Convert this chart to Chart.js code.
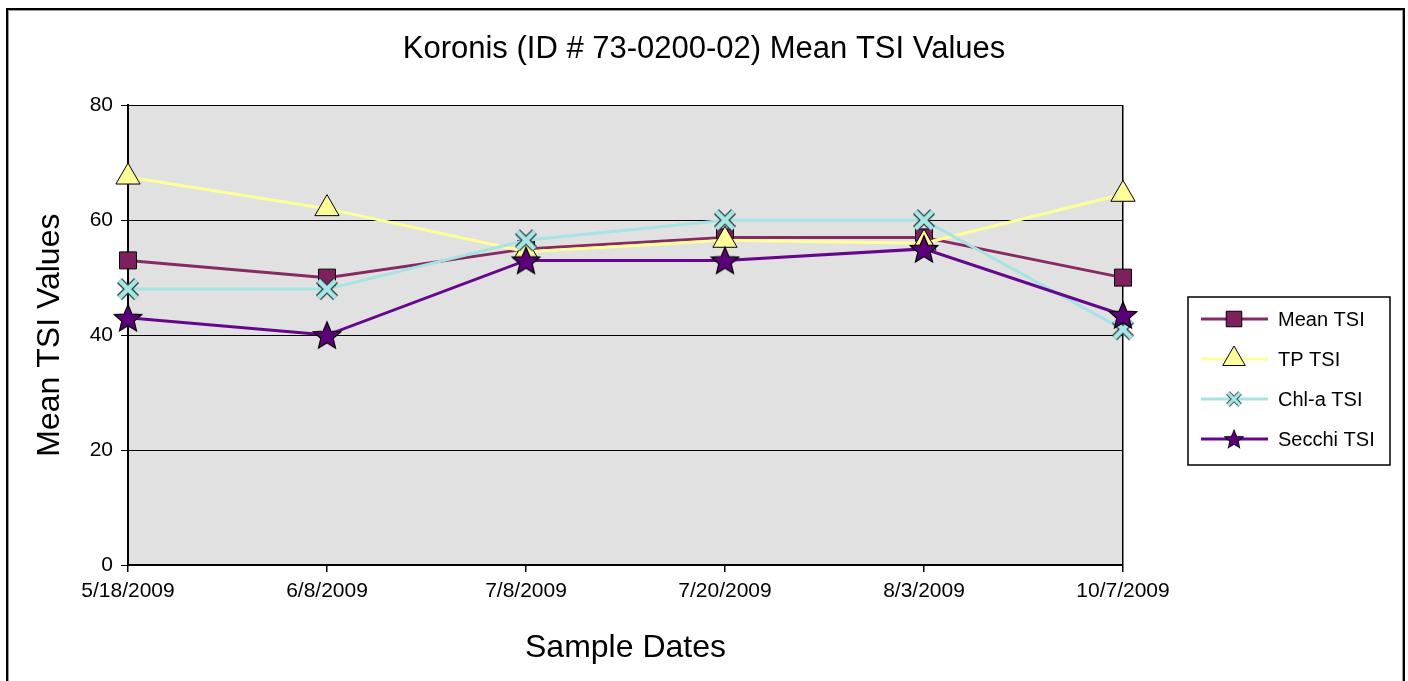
<!DOCTYPE html>
<html>
<head>
<meta charset="utf-8">
<script src="https://cdn.jsdelivr.net/npm/chart.js@4/dist/chart.umd.min.js"></script>
<style>
  html, body { margin: 0; padding: 0; background: #fff; }
  #wrap { width: 1408px; height: 681px; position: relative; }
</style>
</head>
<body>
<div id="wrap"><canvas id="grafico"></canvas></div>
<script>
// valores
const datasAmostra = ["5/18/2009", "6/8/2009", "7/8/2009", "7/20/2009", "8/3/2009", "10/7/2009"];
const meanTsi = [53, 50, 55, 57, 57, 50];
const tpTsi = [67.5, 62, 54.5, 56.5, 56, 64.5];
const chlaTsi = [48, 48, 56.5, 60, 60, 41];
const secchiTsi = [43, 40, 53, 53, 55, 43.5];
const ticksY = [0, 20, 40, 60, 80];

const FONTE = "'Liberation Sans', Arial, sans-serif";

// marcador "X" com contorno escuro
function criarMarcadorX(tam, cor) {
  const c = document.createElement("canvas");
  c.width = tam; c.height = tam;
  const ctx = c.getContext("2d");
  const m = tam * 0.17;
  ctx.lineCap = "butt";
  ctx.beginPath();
  ctx.moveTo(m, m); ctx.lineTo(tam - m, tam - m);
  ctx.moveTo(tam - m, m); ctx.lineTo(m, tam - m);
  ctx.strokeStyle = "#2f3f3f";
  ctx.lineWidth = tam * 0.27;
  ctx.stroke();
  ctx.strokeStyle = cor;
  ctx.lineWidth = tam * 0.17;
  ctx.stroke();
  return c;
}

// estrela de 5 pontas preenchida
function criarMarcadorEstrela(tam, cor) {
  const c = document.createElement("canvas");
  c.width = tam; c.height = tam;
  const ctx = c.getContext("2d");
  const cx = tam / 2, cy = tam / 2 + tam * 0.04;
  const rExt = tam / 2 - 1.5, rInt = rExt * 0.45;
  ctx.beginPath();
  for (let i = 0; i < 10; i++) {
    const r = i % 2 === 0 ? rExt : rInt;
    const a = -Math.PI / 2 + i * Math.PI / 5;
    const x = cx + r * Math.cos(a), y = cy + r * Math.sin(a);
    i === 0 ? ctx.moveTo(x, y) : ctx.lineTo(x, y);
  }
  ctx.closePath();
  ctx.fillStyle = cor;
  ctx.fill();
  ctx.strokeStyle = "#000";
  ctx.lineWidth = 1.2;
  ctx.stroke();
  return c;
}

const marcadorX = criarMarcadorX(26, "#a6e6e6");
const marcadorEstrela = criarMarcadorEstrela(32, "#5a0078");

// fundo branco, moldura externa e área cinza do gráfico
const pluginFundo = {
  id: "fundo",
  beforeDraw(chart) {
    const { ctx, chartArea: a } = chart;
    ctx.save();
    ctx.fillStyle = "#fff";
    ctx.fillRect(0, 0, chart.width, chart.height);
    ctx.fillStyle = "#e1e1e1";
    ctx.fillRect(a.left, a.top, a.right - a.left, a.bottom - a.top);
    ctx.strokeStyle = "#000";
    ctx.lineWidth = 2;
    ctx.strokeRect(7, 9, chart.width - 11, chart.height + 20);
    ctx.strokeStyle = "#999";
    ctx.lineWidth = 1;
    ctx.strokeRect(8.5, 10.5, chart.width - 14, chart.height + 20);
    ctx.restore();
  },
};

// legenda em caixa, linha + marcador como no Excel
const pluginLegenda = {
  id: "legendaCaixa",
  afterDraw(chart) {
    const { ctx } = chart;
    const x0 = 1188, y0 = 297, w = 202, h = 168;
    ctx.save();
    ctx.strokeStyle = "#000";
    ctx.lineWidth = 1.5;
    ctx.strokeRect(x0, y0, w, h);
    chart.data.datasets.forEach((ds, i) => {
      const y = y0 + 22 + i * 40;
      ctx.beginPath();
      ctx.moveTo(x0 + 13, y);
      ctx.lineTo(x0 + 80, y);
      ctx.strokeStyle = ds.borderColor;
      ctx.lineWidth = 3;
      ctx.stroke();
      const mx = x0 + 46;
      if (typeof ds.pointStyle === "object") {
        const esc = ds.legendScale || 0.6;
        const lw = ds.pointStyle.width * esc, lh = ds.pointStyle.height * esc;
        ctx.drawImage(ds.pointStyle, mx - lw / 2, y - lh / 2, lw, lh);
      } else {
        ctx.fillStyle = ds.pointBackgroundColor;
        ctx.strokeStyle = ds.pointBorderColor;
        ctx.lineWidth = 1;
        Chart.helpers.drawPoint(ctx, {
          pointStyle: ds.pointStyle,
          radius: ds.legendRadius,
          rotation: 0,
          borderWidth: 1,
        }, mx, y);
      }
      ctx.fillStyle = "#000";
      ctx.font = "20px " + FONTE;
      ctx.textBaseline = "middle";
      ctx.textAlign = "left";
      ctx.fillText(ds.label, x0 + 90, y + 1);
    });
    ctx.restore();
  },
};

new Chart(document.getElementById("grafico"), {
  type: "line",
  data: {
    labels: datasAmostra,
    datasets: [
      {
        label: "Mean TSI", data: meanTsi, order: 4,
        borderColor: "#862a64", borderWidth: 3,
        pointStyle: "rect", pointRadius: 12, legendRadius: 11,
        pointBackgroundColor: "#7e1f5e", pointBorderColor: "#000", pointBorderWidth: 1,
      },
      {
        label: "TP TSI", data: tpTsi, order: 3,
        borderColor: "#ffff99", borderWidth: 3,
        pointStyle: "triangle", pointRadius: 14, legendRadius: 13,
        pointBackgroundColor: "#ffff99", pointBorderColor: "#000", pointBorderWidth: 1,
      },
      {
        label: "Chl-a TSI", data: chlaTsi, order: 2,
        borderColor: "#a6e3e3", borderWidth: 3,
        pointStyle: marcadorX, pointRadius: 13, legendScale: 0.7,
      },
      {
        label: "Secchi TSI", data: secchiTsi, order: 1,
        borderColor: "#66068c", borderWidth: 3,
        pointStyle: marcadorEstrela, pointRadius: 16, legendScale: 0.68,
      },
    ],
  },
  options: {
    responsive: true,
    maintainAspectRatio: false,
    animation: false,
    layout: { padding: 0 },
    plugins: {
      legend: { display: false },
      tooltip: { enabled: false },
      title: {
        display: true,
        text: "Koronis (ID # 73-0200-02) Mean TSI Values",
        color: "#000",
        font: { family: FONTE, size: 31, weight: "normal" },
        padding: { top: 31, bottom: 37 },
      },
    },
    scales: {
      x: {
        type: "category",
        offset: false,
        afterFit(scale) { scale.height = 116; },
        border: { color: "#000", width: 2 },
        grid: {
          offset: false,
          color: (c) => (c.index === datasAmostra.length - 1 ? "#000" : "rgba(0,0,0,0)"),
          tickColor: "#000",
          tickLength: 7,
          lineWidth: 1.5,
        },
        ticks: {
          color: "#000",
          font: { family: FONTE, size: 21 },
          padding: 7,
          maxRotation: 0,
          autoSkip: false,
        },
        title: {
          display: true,
          text: "Sample Dates",
          color: "#000",
          font: { family: FONTE, size: 32 },
          padding: { top: 0, bottom: 14 },
        },
      },
      y: {
        min: ticksY[0],
        max: ticksY[ticksY.length - 1],
        afterFit(scale) { scale.width = 128; },
        afterBuildTicks(scale) { scale.ticks = ticksY.map((v) => ({ value: v })); },
        border: { color: "#000", width: 2 },
        grid: { color: "#000", lineWidth: 1, tickColor: "#000", tickLength: 7 },
        ticks: {
          color: "#000",
          font: { family: FONTE, size: 21 },
          padding: 8,
        },
        title: {
          display: true,
          text: "Mean TSI Values",
          color: "#000",
          font: { family: FONTE, size: 32 },
          padding: { top: 31, bottom: 0 },
        },
      },
      // eixo vazio à direita só para reservar o espaço da legenda
      espacoLegenda: {
        type: "linear",
        position: "right",
        afterFit(scale) { scale.width = 285; },
        grid: { display: false, drawTicks: false },
        border: { display: false },
        ticks: { display: false },
      },
    },
  },
  plugins: [pluginFundo, pluginLegenda],
});
</script>
</body>
</html>
